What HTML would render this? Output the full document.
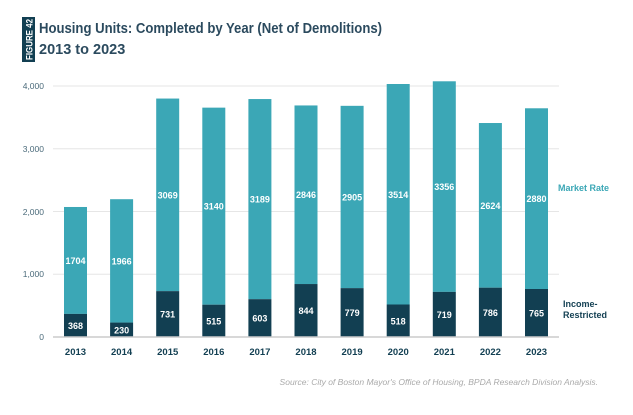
<!DOCTYPE html>
<html><head><style>
body{margin:0;background:#fff;width:633px;height:415px;overflow:hidden;}
svg{display:block;font-family:"Liberation Sans",sans-serif;}
.b{font-size:9px;font-weight:bold;fill:#fff;text-anchor:middle}
.y{font-size:9.5px;font-weight:bold;fill:#123f52;text-anchor:middle}
</style></head><body>
<svg width="633" height="415" viewBox="0 0 633 415">
<rect x="22" y="17" width="13" height="45" fill="#123f52"/>
<text transform="translate(32.5,60) rotate(-90)" font-size="9.5" font-weight="bold" fill="#fff" textLength="41" lengthAdjust="spacingAndGlyphs">FIGURE 42</text>
<text x="39" y="33" font-size="14.5" font-weight="bold" fill="#2b4a5e" textLength="343" lengthAdjust="spacingAndGlyphs">Housing Units: Completed by Year (Net of Demolitions)</text>
<text x="39" y="54" font-size="14.5" font-weight="bold" fill="#2b4a5e">2013 to 2023</text>
<g stroke="#e6e6e6" stroke-width="1">
<line x1="53" x2="559" y1="86" y2="86"/>
<line x1="53" x2="559" y1="148.75" y2="148.75"/>
<line x1="53" x2="559" y1="211.5" y2="211.5"/>
<line x1="53" x2="559" y1="274.25" y2="274.25"/>
</g>
<g font-size="8.5" fill="#4a6a7a" text-anchor="end">
<text x="44" y="89">4,000</text><text x="44" y="152">3,000</text><text x="44" y="215">2,000</text><text x="44" y="277">1,000</text><text x="44" y="340">0</text>
</g>
<g fill="#3ba7b6">
<rect x="64" y="206.98" width="23" height="106.93"/>
<rect x="110.1" y="199.2" width="23" height="123.37"/>
<rect x="156.2" y="98.55" width="23" height="192.58"/>
<rect x="202.3" y="107.64" width="23" height="197.04"/>
<rect x="248.4" y="99.05" width="23" height="200.11"/>
<rect x="294.5" y="105.45" width="23" height="178.59"/>
<rect x="340.6" y="105.83" width="23" height="182.29"/>
<rect x="386.7" y="84" width="23" height="220.5"/>
<rect x="432.8" y="81.29" width="23" height="210.59"/>
<rect x="478.9" y="123.02" width="23" height="164.66"/>
<rect x="525" y="108.28" width="23" height="180.72"/>
</g>
<g fill="#123f52">
<rect x="64" y="313.91" width="23" height="23.09"/>
<rect x="110.1" y="322.57" width="23" height="14.43"/>
<rect x="156.2" y="291.13" width="23" height="45.87"/>
<rect x="202.3" y="304.68" width="23" height="32.32"/>
<rect x="248.4" y="299.16" width="23" height="37.84"/>
<rect x="294.5" y="284.04" width="23" height="52.96"/>
<rect x="340.6" y="288.12" width="23" height="48.88"/>
<rect x="386.7" y="304.5" width="23" height="32.5"/>
<rect x="432.8" y="291.88" width="23" height="45.12"/>
<rect x="478.9" y="287.68" width="23" height="49.32"/>
<rect x="525" y="289" width="23" height="48"/>
</g>
<line x1="53" x2="559" y1="337" y2="337" stroke="#cccccc" stroke-width="1.5"/>
<text class="b" x="75.5" y="329">368</text><text class="b" x="75.5" y="263.9">1704</text>
<text class="b" x="121.6" y="333.3">230</text><text class="b" x="121.6" y="264.4">1966</text>
<text class="b" x="167.7" y="317.6">731</text><text class="b" x="167.7" y="198.3">3069</text>
<text class="b" x="213.8" y="324.3">515</text><text class="b" x="213.8" y="209.7">3140</text>
<text class="b" x="259.9" y="321.6">603</text><text class="b" x="259.9" y="202.6">3189</text>
<text class="b" x="306" y="314">844</text><text class="b" x="306" y="198.2">2846</text>
<text class="b" x="352.1" y="316.1">779</text><text class="b" x="352.1" y="200.5">2905</text>
<text class="b" x="398.2" y="324.3">518</text><text class="b" x="398.2" y="197.8">3514</text>
<text class="b" x="444.3" y="318">719</text><text class="b" x="444.3" y="190.1">3356</text>
<text class="b" x="490.4" y="315.8">786</text><text class="b" x="490.4" y="208.9">2624</text>
<text class="b" x="536.5" y="316.5">765</text><text class="b" x="536.5" y="202.1">2880</text>
<text class="y" x="75.5" y="355">2013</text><text class="y" x="121.6" y="355">2014</text><text class="y" x="167.7" y="355">2015</text><text class="y" x="213.8" y="355">2016</text><text class="y" x="259.9" y="355">2017</text><text class="y" x="306" y="355">2018</text><text class="y" x="352.1" y="355">2019</text><text class="y" x="398.2" y="355">2020</text><text class="y" x="444.3" y="355">2021</text><text class="y" x="490.4" y="355">2022</text><text class="y" x="536.5" y="355">2023</text>
<text x="558" y="191" font-size="9" font-weight="bold" fill="#3ba7b6">Market Rate</text>
<text x="563" y="307" font-size="9" font-weight="bold" fill="#123f52">Income-</text>
<text x="563" y="318" font-size="9" font-weight="bold" fill="#123f52">Restricted</text>
<text x="598" y="385" font-size="8.5" font-style="italic" fill="#aaaaaa" text-anchor="end">Source: City of Boston Mayor's Office of Housing, BPDA Research Division Analysis.</text>
</svg>
</body></html>
